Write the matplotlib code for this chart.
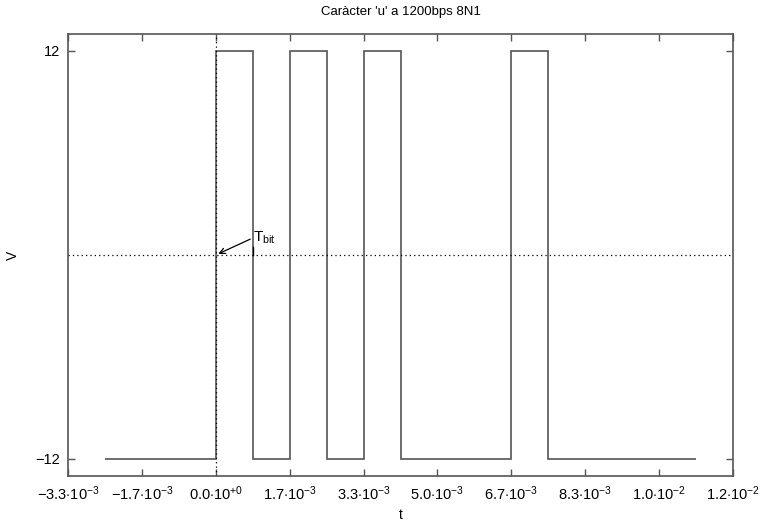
import numpy as np
import matplotlib.pyplot as plt

plt.rcParams['font.family'] = ['Liberation Sans', 'DejaVu Sans']
plt.rcParams['mathtext.fontset'] = 'custom'
plt.rcParams['mathtext.rm'] = 'Liberation Sans'
plt.rcParams['mathtext.it'] = 'Liberation Sans'

T = 1.0 / 1200
# bit slots (units of T): idle, start, 8 data bits LSB first ('u' = 0x75), stop/idle
edges = [-3, 0, 1, 2, 3, 4, 5, 8, 9, 13]
levels = [-12, 12, -12, 12, -12, 12, -12, 12, -12]
xticks = [-4, -2, 0, 2, 4, 6, 8, 10, 12, 14]
xticklabels = [r'$-3.3{\cdot}10^{-3}$', r'$-1.7{\cdot}10^{-3}$', r'$0.0{\cdot}10^{+0}$',
               r'$1.7{\cdot}10^{-3}$', r'$3.3{\cdot}10^{-3}$', r'$5.0{\cdot}10^{-3}$',
               r'$6.7{\cdot}10^{-3}$', r'$8.3{\cdot}10^{-3}$', r'$1.0{\cdot}10^{-2}$',
               r'$1.2{\cdot}10^{-2}$']
yticks = [-12, 12]

col = '#555555'
fig = plt.figure(figsize=(7.62, 5.23), dpi=100)
ax = fig.add_axes([68/762, 1 - 476/523, (733 - 68)/762, (476 - 34)/523])

t = np.array(edges) * T
ax.stairs(levels, t, color=col, lw=1.2, baseline=None)
ax.axhline(0, color='black', lw=0.9, ls=(0, (1, 2.5)))
ax.axvline(0, color='black', lw=0.9, ls=(0, (1, 2.5)))

ax.annotate('', xy=(0, 0), xytext=(T, 1.0),
            arrowprops=dict(arrowstyle='->', color='black', lw=0.9))
ax.text(T, 1.0, r'T$_{\rm bit}$', fontsize=11, va='center', ha='left')
ax.plot([T, T], [0, 0.5], color='black', lw=1.0)

ax.set_xlim(-4*T, 14*T)
ax.set_ylim(-13, 13)
ax.set_xticks(np.array(xticks) * T)
ax.set_xticklabels(xticklabels)
ax.set_yticks(yticks)
ax.tick_params(direction='in', top=True, right=True, length=5, width=1, color=col,
               labelsize=10.5, pad=6)
for s in ax.spines.values():
    s.set_color(col)
    s.set_linewidth(1.2)

ax.set_title("Caràcter 'u' a 1200bps 8N1", fontsize=9.5, pad=14)
ax.set_xlabel('t', fontsize=10, labelpad=4)
ax.set_ylabel('V', fontsize=10)
ax.yaxis.set_label_coords(-0.072, 0.5)

fig.savefig('out.png', dpi=100)
